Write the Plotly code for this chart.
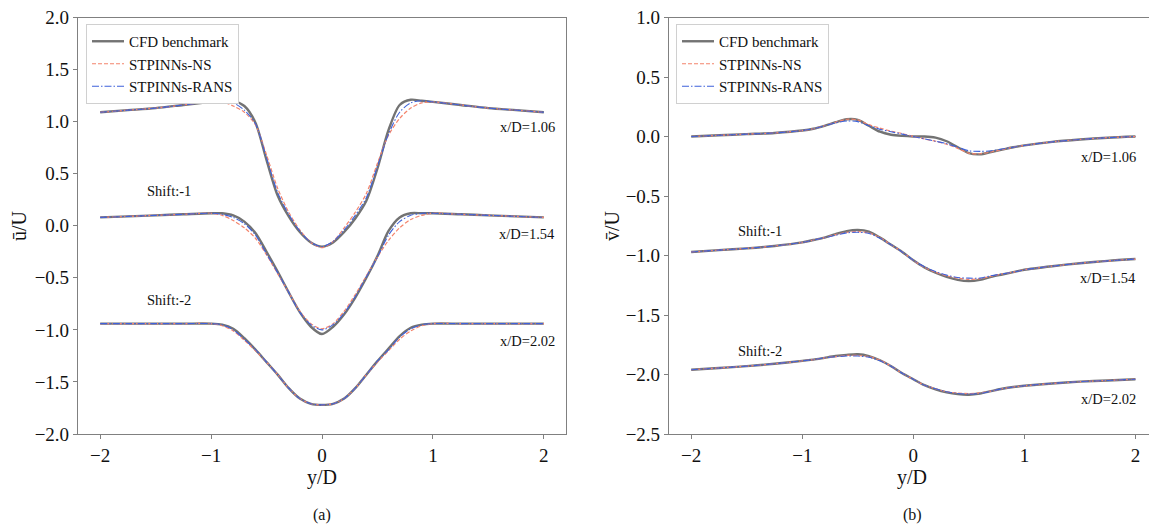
import plotly.graph_objects as go

# Transverse positions y/D shared by every profile
y_d = [-2.0, -1.75, -1.5, -1.25, -1.0, -0.9, -0.8, -0.7, -0.6, -0.5, -0.4, -0.3, -0.2, -0.1,
       0.0, 0.1, 0.2, 0.3, 0.4, 0.5, 0.6, 0.7, 0.8, 0.9, 1.0, 1.25, 1.5, 1.75, 2.0]

# Streamwise mean velocity u/U at x/D = 1.06 (no shift)
u_cfd_106 = [1.09, 1.11, 1.13, 1.16, 1.19, 1.20, 1.20, 1.15, 0.99, 0.63, 0.29, 0.09, -0.06, -0.16,
             -0.20, -0.16, -0.06, 0.07, 0.24, 0.55, 0.92, 1.16, 1.21, 1.20, 1.19, 1.16, 1.13, 1.11, 1.09]
u_ns_106 = [1.09, 1.11, 1.13, 1.16, 1.19, 1.19, 1.15, 1.09, 0.97, 0.68, 0.36, 0.13, -0.04, -0.16,
            -0.21, -0.15, -0.02, 0.13, 0.31, 0.60, 0.87, 1.03, 1.13, 1.18, 1.19, 1.16, 1.13, 1.11, 1.09]
u_rans_106 = [1.09, 1.11, 1.13, 1.16, 1.19, 1.20, 1.18, 1.11, 0.98, 0.65, 0.32, 0.11, -0.05, -0.16,
              -0.20, -0.15, -0.04, 0.10, 0.27, 0.57, 0.88, 1.09, 1.18, 1.20, 1.19, 1.16, 1.13, 1.11, 1.09]

# x/D = 1.54, shifted by -1
u_cfd_154 = [0.08, 0.09, 0.10, 0.11, 0.12, 0.12, 0.10, 0.04, -0.07, -0.25, -0.44, -0.64, -0.83, -0.97,
             -1.04, -0.97, -0.85, -0.69, -0.50, -0.29, -0.05, 0.08, 0.12, 0.12, 0.12, 0.11, 0.10, 0.09, 0.08]
u_ns_154 = [0.08, 0.09, 0.10, 0.11, 0.12, 0.10, 0.05, -0.02, -0.12, -0.28, -0.46, -0.64, -0.82, -0.94,
            -0.99, -0.94, -0.82, -0.66, -0.48, -0.30, -0.14, -0.02, 0.06, 0.10, 0.12, 0.11, 0.10, 0.09, 0.08]
u_rans_154 = [0.08, 0.09, 0.10, 0.11, 0.12, 0.11, 0.08, 0.02, -0.09, -0.27, -0.45, -0.64, -0.83, -0.95,
              -1.00, -0.95, -0.84, -0.68, -0.49, -0.30, -0.09, 0.04, 0.10, 0.12, 0.12, 0.11, 0.10, 0.09, 0.08]

# x/D = 2.02, shifted by -2
u_cfd_202 = [-0.94, -0.94, -0.94, -0.94, -0.94, -0.95, -0.99, -1.08, -1.19, -1.31, -1.43, -1.56, -1.66, -1.71,
             -1.72, -1.71, -1.66, -1.56, -1.43, -1.30, -1.18, -1.06, -0.98, -0.95, -0.94, -0.94, -0.94, -0.94, -0.94]
u_ns_202 = [-0.94, -0.94, -0.94, -0.94, -0.94, -0.96, -1.01, -1.10, -1.20, -1.31, -1.43, -1.56, -1.66, -1.71,
            -1.72, -1.71, -1.66, -1.56, -1.43, -1.31, -1.20, -1.09, -1.01, -0.96, -0.94, -0.94, -0.94, -0.94, -0.94]
u_rans_202 = [-0.94, -0.94, -0.94, -0.94, -0.94, -0.95, -1.00, -1.09, -1.19, -1.31, -1.43, -1.56, -1.66, -1.71,
              -1.72, -1.71, -1.66, -1.56, -1.43, -1.30, -1.19, -1.07, -0.99, -0.95, -0.94, -0.94, -0.94, -0.94, -0.94]

# Transverse mean velocity v/U at x/D = 1.06 (no shift)
v_cfd_106 = [0.0, 0.01, 0.02, 0.03, 0.05, 0.065, 0.09, 0.12, 0.145, 0.14, 0.09, 0.04, 0.015, 0.005,
             0.0, 0.0, -0.01, -0.04, -0.09, -0.14, -0.15, -0.13, -0.11, -0.09, -0.075, -0.045, -0.025, -0.01, 0.0]
v_ns_106 = [0.0, 0.01, 0.02, 0.03, 0.05, 0.065, 0.09, 0.12, 0.145, 0.14, 0.10, 0.07, 0.045, 0.025,
            0.0, -0.02, -0.04, -0.065, -0.10, -0.14, -0.145, -0.13, -0.11, -0.09, -0.075, -0.045, -0.025, -0.01, 0.0]
v_rans_106 = [0.0, 0.01, 0.02, 0.03, 0.05, 0.065, 0.09, 0.115, 0.13, 0.125, 0.09, 0.06, 0.04, 0.02,
              0.0, -0.02, -0.04, -0.06, -0.09, -0.12, -0.125, -0.12, -0.105, -0.09, -0.075, -0.045, -0.025, -0.01, 0.0]

# x/D = 1.54, shifted by -1
v_cfd_154 = [-0.97, -0.955, -0.94, -0.92, -0.89, -0.87, -0.85, -0.82, -0.795, -0.785, -0.80, -0.85, -0.91, -0.97,
             -1.04, -1.10, -1.145, -1.18, -1.205, -1.215, -1.205, -1.18, -1.16, -1.14, -1.12, -1.09, -1.065, -1.045, -1.03]
v_ns_154 = [-0.97, -0.955, -0.94, -0.92, -0.89, -0.87, -0.85, -0.825, -0.805, -0.80, -0.81, -0.85, -0.91, -0.97,
            -1.04, -1.10, -1.14, -1.17, -1.19, -1.20, -1.195, -1.175, -1.155, -1.14, -1.12, -1.09, -1.065, -1.045, -1.03]
v_rans_154 = [-0.97, -0.955, -0.94, -0.92, -0.89, -0.87, -0.85, -0.83, -0.81, -0.805, -0.815, -0.855, -0.91, -0.97,
              -1.04, -1.095, -1.135, -1.165, -1.185, -1.19, -1.19, -1.17, -1.155, -1.14, -1.12, -1.09, -1.065, -1.045, -1.03]

# x/D = 2.02, shifted by -2
v_cfd_202 = [-1.96, -1.945, -1.93, -1.91, -1.885, -1.875, -1.86, -1.845, -1.835, -1.83, -1.845, -1.88, -1.93, -1.99,
             -2.04, -2.09, -2.125, -2.15, -2.165, -2.17, -2.16, -2.14, -2.12, -2.105, -2.095, -2.075, -2.06, -2.05, -2.04]
v_ns_202 = [-1.96, -1.945, -1.93, -1.91, -1.885, -1.875, -1.86, -1.85, -1.84, -1.84, -1.85, -1.88, -1.93, -1.99,
            -2.04, -2.09, -2.12, -2.145, -2.155, -2.16, -2.155, -2.14, -2.12, -2.105, -2.095, -2.075, -2.06, -2.05, -2.04]
v_rans_202 = [-1.96, -1.945, -1.93, -1.91, -1.885, -1.875, -1.86, -1.85, -1.845, -1.845, -1.855, -1.885, -1.93, -1.99,
              -2.04, -2.09, -2.12, -2.145, -2.16, -2.165, -2.16, -2.14, -2.12, -2.105, -2.095, -2.075, -2.06, -2.05, -2.04]

series_names = ["CFD benchmark", "STPINNs-NS", "STPINNs-RANS"]
station_labels = ["x/D=1.06", "x/D=1.54", "x/D=2.02"]
shift_labels = ["Shift:-1", "Shift:-2"]

x_ticks = [-2, -1, 0, 1, 2]
x_tick_text = ["\u22122", "\u22121", "0", "1", "2"]
u_ticks = [2.0, 1.5, 1.0, 0.5, 0.0, -0.5, -1.0, -1.5, -2.0]
v_ticks = [1.0, 0.5, 0.0, -0.5, -1.0, -1.5, -2.0, -2.5]


def tick_text(vals):
    return [f"{v:.1f}".replace("-", "\u2212") for v in vals]


FONT = "Liberation Serif, Times New Roman, serif"
AXIS_COLOR = "#808080"
W, H = 1149, 526
styles = [
    dict(color="#737373", width=2.4, dash="solid"),
    dict(color="#f4846c", width=1.2, dash="4px,2px"),
    dict(color="#3f62da", width=1.1, dash="7px,2px,1.5px,2px"),
]

fig = go.Figure()

u_profiles = [
    [u_cfd_106, u_ns_106, u_rans_106],
    [u_cfd_154, u_ns_154, u_rans_154],
    [u_cfd_202, u_ns_202, u_rans_202],
]
v_profiles = [
    [v_cfd_106, v_ns_106, v_rans_106],
    [v_cfd_154, v_ns_154, v_rans_154],
    [v_cfd_202, v_ns_202, v_rans_202],
]

for profiles, xa, ya, leg in [(u_profiles, "x", "y", "legend"),
                              (v_profiles, "x2", "y2", "legend2")]:
    for k in range(3):
        for i, station in enumerate(profiles):
            fig.add_trace(go.Scatter(
                x=y_d, y=station[k], mode="lines",
                line=dict(shape="spline", smoothing=0.8, **styles[k]),
                name=series_names[k], legendgroup=f"{leg}-{k}",
                showlegend=(i == 0), legend=leg,
                xaxis=xa, yaxis=ya, hoverinfo="skip",
            ))

axis_common = dict(
    showline=True, linecolor=AXIS_COLOR, linewidth=1.2,
    ticks="outside", ticklen=4, tickwidth=1, tickcolor=AXIS_COLOR,
    showgrid=False, zeroline=False, automargin=False,
    tickfont=dict(family=FONT, size=19, color="#111111"),
)

plot_top = 17.5
plot_bottom = 434.0
y_domain = [(H - plot_bottom) / H, (H - plot_top) / H]

fig.update_layout(
    template="none",
    width=W, height=H,
    margin=dict(l=0, r=0, t=0, b=0, autoexpand=False),
    paper_bgcolor="white", plot_bgcolor="white",
    font=dict(family=FONT, color="#111111"),
    xaxis=dict(domain=[78 / W, 566 / W], range=[-2.2, 2.2], mirror=True, anchor="y",
               tickvals=x_ticks, ticktext=x_tick_text, **axis_common),
    yaxis=dict(domain=y_domain, range=[-2.0, 2.0], mirror=True, anchor="x",
               tickvals=u_ticks, ticktext=tick_text(u_ticks), **axis_common),
    xaxis2=dict(domain=[669 / W, 1.0], range=[-2.2, 2.122], mirror=True, anchor="y2",
                tickvals=x_ticks, ticktext=x_tick_text, **axis_common),
    yaxis2=dict(domain=y_domain, range=[-2.5, 1.0], mirror=False, anchor="x2",
                tickvals=v_ticks, ticktext=tick_text(v_ticks), **axis_common),
    legend=dict(x=86 / W, y=1 - 24 / H, xanchor="left", yanchor="top",
                bgcolor="white", bordercolor="#d0d0d0", borderwidth=1,
                font=dict(family=FONT, size=15), tracegroupgap=0, itemwidth=32),
    legend2=dict(x=676 / W, y=1 - 24 / H, xanchor="left", yanchor="top",
                 bgcolor="white", bordercolor="#d0d0d0", borderwidth=1,
                 font=dict(family=FONT, size=15), tracegroupgap=0, itemwidth=32),
)

# Axis titles
title_font = dict(family=FONT, size=20)
for xc in [322 / W, 912 / W]:
    fig.add_annotation(x=xc, y=(H - 477) / H, xref="paper", yref="paper", text="y/D",
                       showarrow=False, xanchor="center", yanchor="middle", font=title_font)
for xc, txt in [(19 / W, "\u016b/U"), (612 / W, "v\u0304/U")]:
    fig.add_annotation(x=xc, y=(H - 226) / H, xref="paper", yref="paper", text=txt,
                       textangle=-90, showarrow=False, xanchor="center", yanchor="middle",
                       font=title_font)

# Station and shift labels placed in data coordinates of each panel
u_station_y = [0.95, -0.08, -1.11]
v_station_y = [-0.17, -1.19, -2.21]
u_shift_y = [0.33, -0.71]
v_shift_y = [-0.79, -1.80]
label_font = dict(family=FONT, size=14.5)

for lbl, yy in zip(station_labels, u_station_y):
    fig.add_annotation(x=2.12, y=yy, xref="x", yref="y", text=lbl, showarrow=False,
                       xanchor="right", yanchor="middle", font=label_font)
for lbl, yy in zip(station_labels, v_station_y):
    fig.add_annotation(x=2.02, y=yy, xref="x2", yref="y2", text=lbl, showarrow=False,
                       xanchor="right", yanchor="middle", font=label_font)
for lbl, yy in zip(shift_labels, u_shift_y):
    fig.add_annotation(x=-1.6, y=yy, xref="x", yref="y", text=lbl, showarrow=False,
                       xanchor="left", yanchor="middle", font=label_font)
for lbl, yy in zip(shift_labels, v_shift_y):
    fig.add_annotation(x=-1.60, y=yy, xref="x2", yref="y2", text=lbl, showarrow=False,
                       xanchor="left", yanchor="middle", font=label_font)

# Panel captions
for cap, xc in [("(a)", 322 / W), ("(b)", 912 / W)]:
    fig.add_annotation(x=xc, y=(H - 515) / H, xref="paper", yref="paper", text=cap,
                       showarrow=False, xanchor="center", yanchor="middle",
                       font=dict(family=FONT, size=16))

fig.write_html("out.html")
